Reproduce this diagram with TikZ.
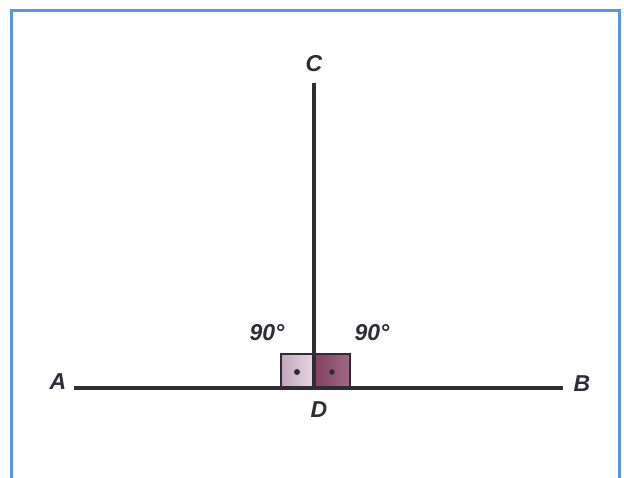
\documentclass[tikz,border=0pt]{standalone}
\usepackage{fontspec}
\setmainfont{Liberation Sans}[BoldFeatures={FakeBold=2}]
\begin{document}
\begin{tikzpicture}[x=1pt,y=-1pt,
  seg/.style={line width=3.8pt,draw=ink},
  lbl/.style={font=\bfseries\itshape\fontsize{23}{23}\selectfont,text=ink,inner sep=0pt},
  sq/.style={draw=ink,line width=2.2pt}]
\definecolor{ink}{HTML}{2E2C38}
\definecolor{frame}{HTML}{5E92E6}
\definecolor{sqL}{HTML}{C4A6BC}
\definecolor{sqLl}{HTML}{E6D8E2}
\definecolor{sqR}{HTML}{84405F}
\definecolor{sqRl}{HTML}{A06A84}
\useasboundingbox (0,0) rectangle (624,477);
\fill[white] (0,0) rectangle (624,477);
\draw[frame,line width=3pt] (11,478) -- (11,10) -- (619,10) -- (619,478);
% right-angle squares
\shade[left color=sqL,right color=sqLl] (281,354) rectangle (314,388);
\shade[left color=sqR,right color=sqRl] (314,354) rectangle (350,388);
\draw[sq] (281,388) -- (281,354) -- (350,354) -- (350,388);
\fill[ink] (297,372) circle (3);
\fill[ink] (332,372) circle (2.8);
% points
\coordinate (pA) at (74,388);
\coordinate (pB) at (563,388);
\coordinate (pC) at (314,83);
\coordinate (pD) at (314,388);
\draw[seg] (pA) -- (pB);
\draw[seg] (pC) -- (pD);
\node[lbl] (lA) at (58,382) {A};
\node[lbl] (lB) at (582,384) {B};
\node[lbl] (lC) at (314,64) {C};
\node[lbl] (lD) at (319,410) {D};
\node[lbl] (a1) at (267,333) {90°};
\node[lbl] (a2) at (372,333) {90°};
\end{tikzpicture}
\end{document}
